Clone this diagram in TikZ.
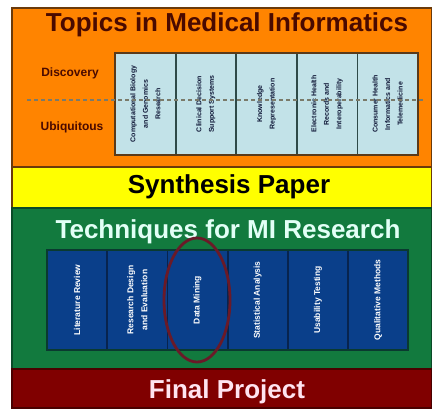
\documentclass[tikz,border=0pt]{standalone}
\usepackage{fontspec}
\setmainfont{Liberation Sans}
\usetikzlibrary{shapes.geometric}
\definecolor{orangeband}{HTML}{FF8400}
\definecolor{orangeedge}{HTML}{6B3A0A}
\definecolor{yellowband}{HTML}{FFFF00}
\definecolor{greenband}{HTML}{127A3E}
\definecolor{greenedge}{HTML}{0A4A28}
\definecolor{redband}{HTML}{800000}
\definecolor{rededge}{HTML}{4A0000}
\definecolor{topcol}{HTML}{C2E2E8}
\definecolor{topcoledge}{HTML}{2E4A48}
\definecolor{topframe}{HTML}{5A3A1A}
\definecolor{toptextcol}{HTML}{101838}
\definecolor{botcol}{HTML}{0A3F8A}
\definecolor{botcoledge}{HTML}{08244E}
\definecolor{botframe}{HTML}{0A3A30}
\definecolor{titlebrown}{HTML}{4A0A00}
\definecolor{titlecyan}{HTML}{E2FFF6}
\definecolor{titlepink}{HTML}{FFE4F0}
\definecolor{ringcol}{HTML}{6A1A28}
\definecolor{dashgrey}{HTML}{7A7A6A}
\begin{document}
\begin{tikzpicture}[x=1pt,y=-1pt,
  band/.style={draw, line width=2pt, minimum width=420pt, inner sep=0pt, anchor=north west},
  bigtitle/.style={font=\fontsize{26}{28}\selectfont\bfseries, inner sep=0pt},
  sidelabel/.style={font=\fontsize{12}{14}\selectfont\bfseries, text=titlebrown, inner sep=0pt},
  topcolbox/.style={draw=topcoledge, fill=topcol, line width=1.8pt, minimum width=60.6pt, minimum height=102pt, inner sep=0pt},
  botcolbox/.style={draw=botcoledge, fill=botcol, line width=1.8pt, minimum width=60.2pt, minimum height=100pt, inner sep=0pt},
  toptext/.style={rotate=90, font=\fontsize{7}{12.5}\selectfont\bfseries, text=toptextcol, align=center, inner sep=0pt},
  bottext/.style={rotate=90, font=\fontsize{8.5}{14}\selectfont\bfseries, text=white, align=center, inner sep=0pt}]
\useasboundingbox (0,0) rectangle (432,410);
\fill[white] (0,0) rectangle (432,410);
% bands
\node[band, draw=orangeedge, fill=orangeband, minimum height=159pt] (orange) at (11,7) {};
\node[band, draw=orangeedge, fill=yellowband, minimum height=41pt] (yellow) at (11,166) {};
\node[band, draw=greenedge, fill=greenband, minimum height=161pt] (green) at (11,207) {};
\node[band, draw=rededge, fill=redband, minimum height=39pt] (red) at (11,368) {};
% titles
\node[bigtitle, text=titlebrown] (ttop) at (227,25) {Topics in Medical Informatics};
\node[bigtitle, text=black] (tsyn) at (229,187) {Synthesis Paper};
\node[bigtitle, text=titlecyan] (ttech) at (228,232) {Techniques for MI Research};
\node[bigtitle, text=titlepink] (tfinal) at (227,392) {Final Project};
% top columns
\node[topcolbox] (t1) at (145.3,104) {};
\node[topcolbox] (t2) at (205.9,104) {};
\node[topcolbox] (t3) at (266.5,104) {};
\node[topcolbox] (t4) at (327.1,104) {};
\node[topcolbox] (t5) at (387.7,104) {};
\draw[topframe, line width=2.5pt] (115,53) rectangle (418,155);
\node[toptext] (t1x) at (t1) {Computational Biology\\ and Genomics\\ Research};
\node[toptext] (t2x) at (t2) {Clinical Decision\\ Support Systems};
\node[toptext] (t3x) at (t3) {Knowledge\\ Representation};
\node[toptext] (t4x) at (t4) {Electronic Health\\ Records and\\ Interoperability};
\node[toptext] (t5x) at (t5) {Consumer Health\\ Informatics and\\ Telemedicine};
% dashed divider and side labels
\coordinate (dl) at (27,100);
\coordinate (dr) at (423,100);
\draw[dashgrey, line width=1.5pt, dash pattern=on 4pt off 3pt] (dl) -- (dr);
\node[sidelabel] (disc) at (70,73) {Discovery};
\node[sidelabel] (ubiq) at (72,127) {Ubiquitous};
% bottom columns
\node[botcolbox] (b1) at (77.1,300) {};
\node[botcolbox] (b2) at (137.3,300) {};
\node[botcolbox] (b3) at (197.5,300) {};
\node[botcolbox] (b4) at (257.7,300) {};
\node[botcolbox] (b5) at (317.9,300) {};
\node[botcolbox] (b6) at (378.1,300) {};
\draw[botframe, line width=2.5pt] (47,250) rectangle (408,350);
\node[bottext] (b1x) at (b1) {Literature Review};
\node[bottext] (b2x) at (b2) {Research Design\\ and Evaluation};
\node[bottext] (b3x) at (b3) {Data Mining};
\node[bottext] (b4x) at (b4) {Statistical Analysis};
\node[bottext] (b5x) at (b5) {Usability Testing};
\node[bottext] (b6x) at (b6) {Qualitative Methods};
% highlight ring
\node[draw=ringcol, line width=2.8pt, ellipse, minimum width=66pt, minimum height=124pt, inner sep=0pt] (ring) at (197,300) {};
\end{tikzpicture}
\end{document}
